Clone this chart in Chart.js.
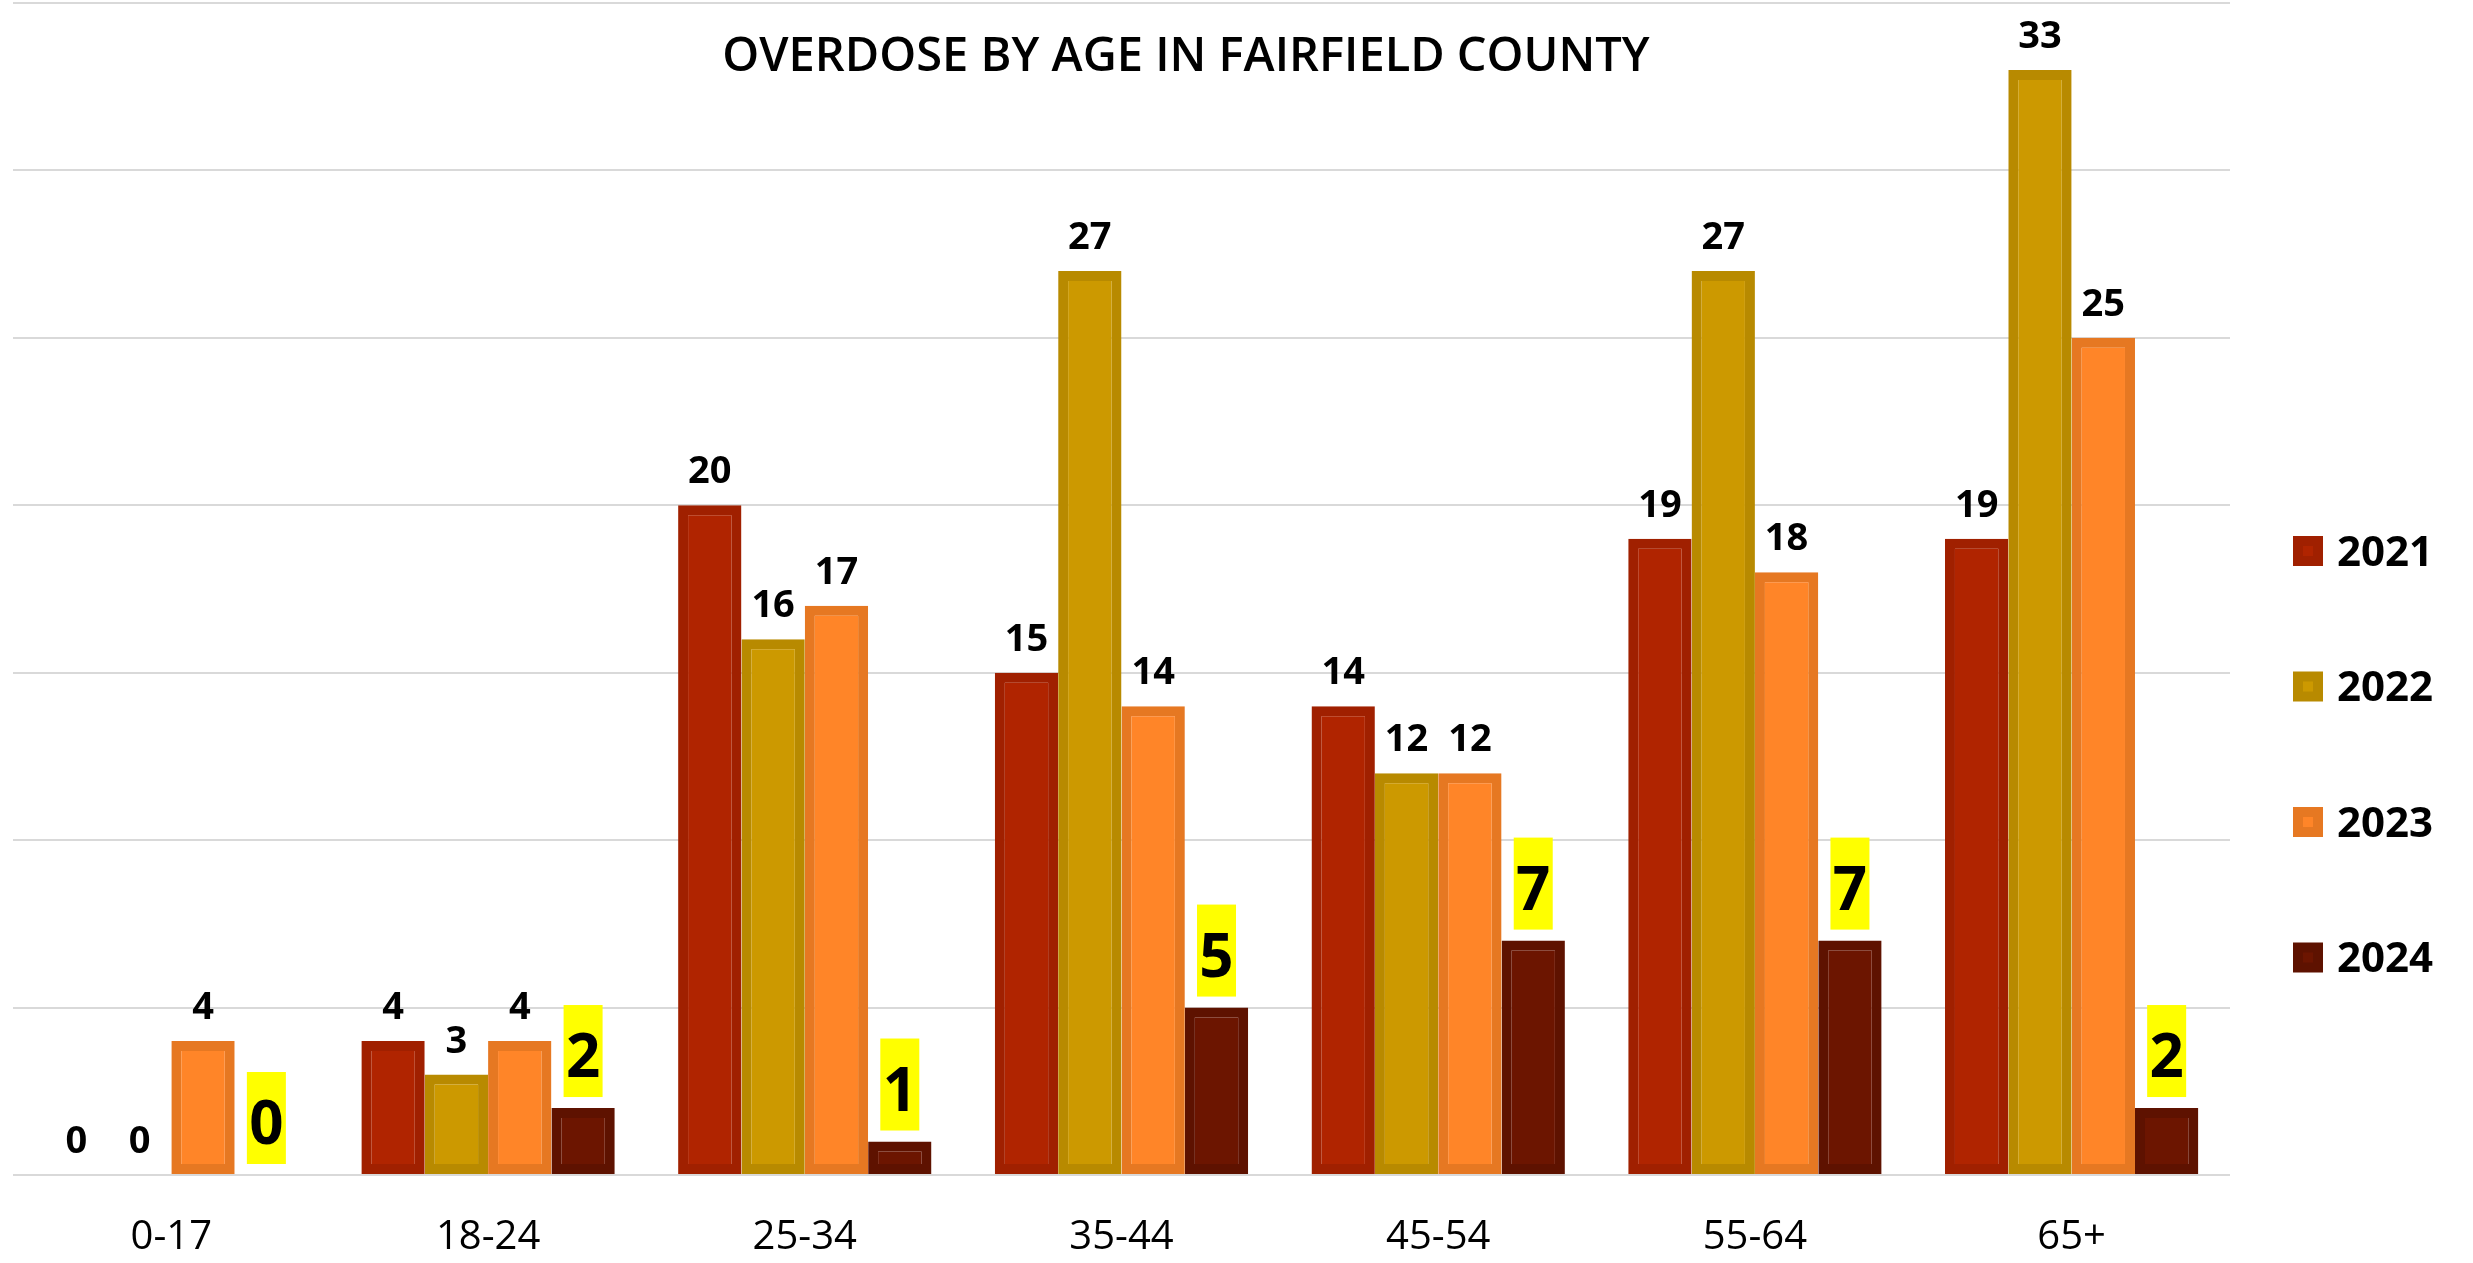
<!DOCTYPE html>
<html>
<head>
<meta charset="utf-8">
<script src="https://cdn.jsdelivr.net/npm/chart.js@4.4.1/dist/chart.umd.min.js"></script>
<style>
  html, body { margin: 0; padding: 0; background: #fff; }
  #wrap { width: 2473px; height: 1263px; }
</style>
</head>
<body>
<div id="wrap"><canvas id="myChart" width="2473" height="1263"></canvas></div>
<script>
// chart data
const ageGroups = ['0-17', '18-24', '25-34', '35-44', '45-54', '55-64', '65+'];
const years = ['2021', '2022', '2023', '2024'];
const deaths2021 = [0, 4, 20, 15, 14, 19, 19];
const deaths2022 = [0, 3, 16, 27, 12, 27, 33];
const deaths2023 = [4, 4, 17, 14, 12, 18, 25];
const deaths2024 = [0, 2, 1, 5, 7, 7, 2];
const yTicks = [0, 5, 10, 15, 20, 25, 30, 35];

const titleText = 'OVERDOSE BY AGE IN FAIRFIELD COUNTY';

// colours: inner fill + darker edge
const fillColors = ['#B02400', '#CC9900', '#FF8528', '#6C1500'];
const edgeColors = ['#A02000', '#B88A00', '#E67822', '#5E1200'];

const FONT = '"Open Sans", "DejaVu Sans", sans-serif';

function makeDataset(label, values, i){
  return {
    label: label,
    data: values,
    backgroundColor: fillColors[i],
    borderColor: edgeColors[i],
    borderWidth: 10,
    borderSkipped: false,
    categoryPercentage: 0.8,
    barPercentage: 1.0
  };
}

const seriesValues = [deaths2021, deaths2022, deaths2023, deaths2024];
const datasets = years.map((y, i) => makeDataset(y, seriesValues[i], i));

// value labels above bars, the latest year gets a yellow highlight box
const valueLabels = {
  id: 'valueLabels',
  afterDatasetsDraw(chart){
    const ctx = chart.ctx;
    ctx.save();
    ctx.textAlign = 'center';
    ctx.textBaseline = 'alphabetic';
    chart.data.datasets.forEach((ds, di) => {
      const meta = chart.getDatasetMeta(di);
      meta.data.forEach((bar, i) => {
        const v = ds.data[i];
        if(di === 3){
          const boxW = 39, boxH = 92;
          const bottom = bar.y - 11;
          ctx.fillStyle = '#FFFF00';
          ctx.fillRect(bar.x - boxW / 2, bottom - boxH, boxW, boxH);
          ctx.fillStyle = '#000';
          ctx.font = '700 60px ' + FONT;
          ctx.fillText(String(v), bar.x, bottom - 20);
        } else {
          ctx.fillStyle = '#000';
          ctx.font = '700 38px ' + FONT;
          ctx.fillText(String(v), bar.x, bar.y - 22);
        }
      });
    });
    ctx.restore();
  }
};

// title over the plot and a legend on the right side
const titleAndLegend = {
  id: 'titleAndLegend',
  afterDraw(chart){
    const ctx = chart.ctx;
    ctx.save();
    ctx.fillStyle = '#000';
    ctx.font = '600 47px ' + FONT;
    ctx.textAlign = 'center';
    ctx.textBaseline = 'middle';
    ctx.fillText(titleText, 1186, 58);

    ctx.textAlign = 'left';
    ctx.font = '700 42px ' + FONT;
    chart.data.datasets.forEach((ds, i) => {
      const cy = 551 + i * 135.5;
      ctx.fillStyle = edgeColors[i];
      ctx.fillRect(2293, cy - 15, 30, 30);
      ctx.fillStyle = fillColors[i];
      ctx.fillRect(2303, cy - 5, 10, 10);
      ctx.fillStyle = '#000';
      ctx.fillText(ds.label, 2337, cy + 3);
    });
    ctx.restore();
  }
};

const config = {
  type: 'bar',
  data: { labels: ageGroups, datasets: datasets },
  options: {
    responsive: false,
    animation: false,
    layout: { padding: { left: 13, right: 243, top: 3, bottom: 0 } },
    plugins: {
      legend: { display: false },
      title: { display: false },
      tooltip: { enabled: false }
    },
    scales: {
      x: {
        grid: { display: false, drawTicks: false },
        border: { display: false },
        ticks: { color: '#000', font: { family: FONT, size: 40 }, padding: 39 },
        afterFit(scale){ scale.height = 88; }
      },
      y: {
        min: yTicks[0],
        max: yTicks[yTicks.length - 1],
        afterBuildTicks(scale){ scale.ticks = yTicks.map(v => ({ value: v })); },
        grid: { color: '#D9D9D9', lineWidth: 2, drawTicks: false },
        border: { display: false },
        ticks: { display: false }
      }
    }
  },
  plugins: [valueLabels, titleAndLegend]
};

new Chart(document.getElementById('myChart'), config);
</script>
</body>
</html>
